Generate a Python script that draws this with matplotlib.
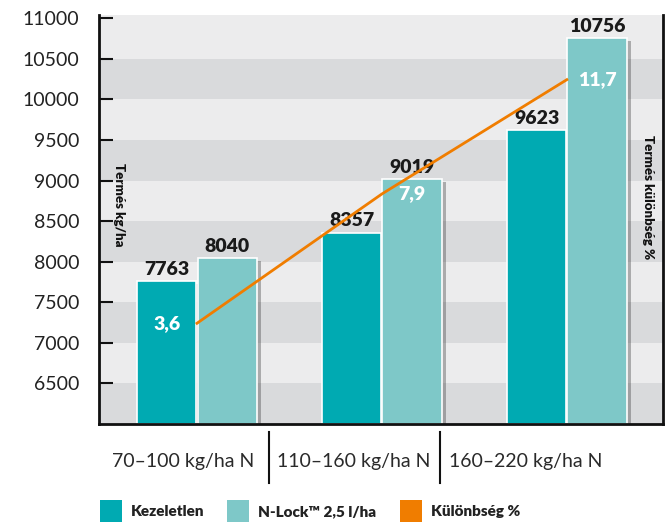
import matplotlib
matplotlib.use("Agg")
import matplotlib.pyplot as plt
import matplotlib.patheffects as pe
from matplotlib.patches import Rectangle
import numpy as np

categories = ["70–100 kg/ha N", "110–160 kg/ha N", "160–220 kg/ha N"]
kezeletlen = [7763, 8357, 9623]
nlock = [8040, 9019, 10756]
kulonbseg = [3.6, 7.9, 11.7]
kulonbseg_labels = ["3,6", "7,9", "11,7"]
yticks = [6500, 7000, 7500, 8000, 8500, 9000, 9500, 10000, 10500, 11000]
series_names = ["Kezeletlen", "N-Lock™ 2,5 l/ha", "Különbség %"]

C_K = "#00aab2"
C_N = "#7ec8c8"
C_O = "#f07d00"
BAND_D = "#d9dadc"
BAND_L = "#ececed"

plt.rcParams['font.family'] = ['Lato', 'DejaVu Sans']

fig = plt.figure(figsize=(6.67, 5.22), dpi=100)
ax = fig.add_axes([99/667, 98/522, 564/667, 409/522])
ax.set_ylim(6000, 11040)
ax.set_xlim(-0.53, 2.52)

# bands
edges = [6000] + yticks
for i in range(len(edges) - 1):
    ax.axhspan(edges[i], edges[i+1], color=BAND_D if i % 2 == 0 else BAND_L, lw=0, zorder=0)
ax.axhspan(11000, 11040, color=BAND_L, lw=0, zorder=0)

x = np.arange(len(categories))
w = 0.32
shadow = [pe.SimplePatchShadow(offset=(3, -2), shadow_rgbFace='#333333', alpha=0.35), pe.Normal()]
b1 = ax.bar(x - 0.163, np.array(kezeletlen) - 6000, bottom=6000, width=w, color=C_K,
            edgecolor='white', linewidth=1.2, zorder=2)
b2 = ax.bar(x + 0.163, np.array(nlock) - 6000, bottom=6000, width=w, color=C_N,
            edgecolor='white', linewidth=1.2, zorder=2)
for b in list(b1) + list(b2):
    b.set_path_effects(shadow)

for xi, v in zip(x - 0.163, kezeletlen):
    ax.text(xi, v + 40, f"{v}", ha='center', va='bottom', fontsize=14, fontweight='heavy',
            color='#1a1a1a', zorder=5)
for xi, v in zip(x + 0.163, nlock):
    ax.text(xi, v + 40, f"{v}", ha='center', va='bottom', fontsize=14, fontweight='heavy',
            color='#1a1a1a', zorder=5)

ax.set_yticks(yticks)
ax.set_yticklabels([str(t) for t in yticks], fontsize=14, color='#222222')
ax.tick_params(axis='y', direction='in', length=10, width=1.5, pad=14, left=True,
               right=True, labelright=False, color='#111111')
ax.set_xticks([])
for s in ['left', 'bottom', 'right']:
    ax.spines[s].set_linewidth(2)
    ax.spines[s].set_color('#111111')
ax.spines['top'].set_visible(False)

ax2 = ax.twinx()
ax2.set_ylim(0.25, 13.85)
ax2.plot(x, kulonbseg, color=C_O, lw=2, zorder=4)
ax2.set_yticks([])
for s in ['left', 'bottom', 'right', 'top']:
    ax2.spines[s].set_visible(False)

pct_x = [x[0] - 0.163, x[1] + 0.163, x[2] + 0.163]
for px, v, lab in zip(pct_x, kulonbseg, kulonbseg_labels):
    ax2.text(px, v, lab, ha='center', va='center', fontsize=14, fontweight='heavy',
             color='white', zorder=6)

ax.text(-0.42, 8700, "Termés kg/ha", rotation=270, ha='center', va='center',
        fontsize=9.5, fontweight='heavy', color='#111111', zorder=5)
ax.text(2.44, 8800, "Termés különbség %", rotation=270, ha='center', va='center',
        fontsize=9.5, fontweight='heavy', color='#111111', zorder=5)

# category labels and separators
lab_x = [183/667, 354/667, 526/667]
for lx, c in zip(lab_x, categories):
    fig.text(lx, 1 - 462/522, c, ha='center', va='center', fontsize=14, color='#2a2a2a')
for sx in [269/667, 440/667]:
    fig.add_artist(plt.Line2D([sx, sx], [1 - 432/522, 1 - 483/522], color='#111111', lw=1.5))

# legend
leg_sq = [100, 227, 400]
leg_colors = [C_K, C_N, C_O]
for lx, col, name in zip(leg_sq, leg_colors, series_names):
    fig.add_artist(Rectangle((lx/667, 0), 22/667, 22/522, transform=fig.transFigure,
                             facecolor=col, edgecolor='none'))
    fig.text((lx + 31)/667, 1 - 512/522, name, ha='left', va='center', fontsize=11,
             fontweight='heavy', color='#222222')

fig.savefig("out.png", dpi=100)
